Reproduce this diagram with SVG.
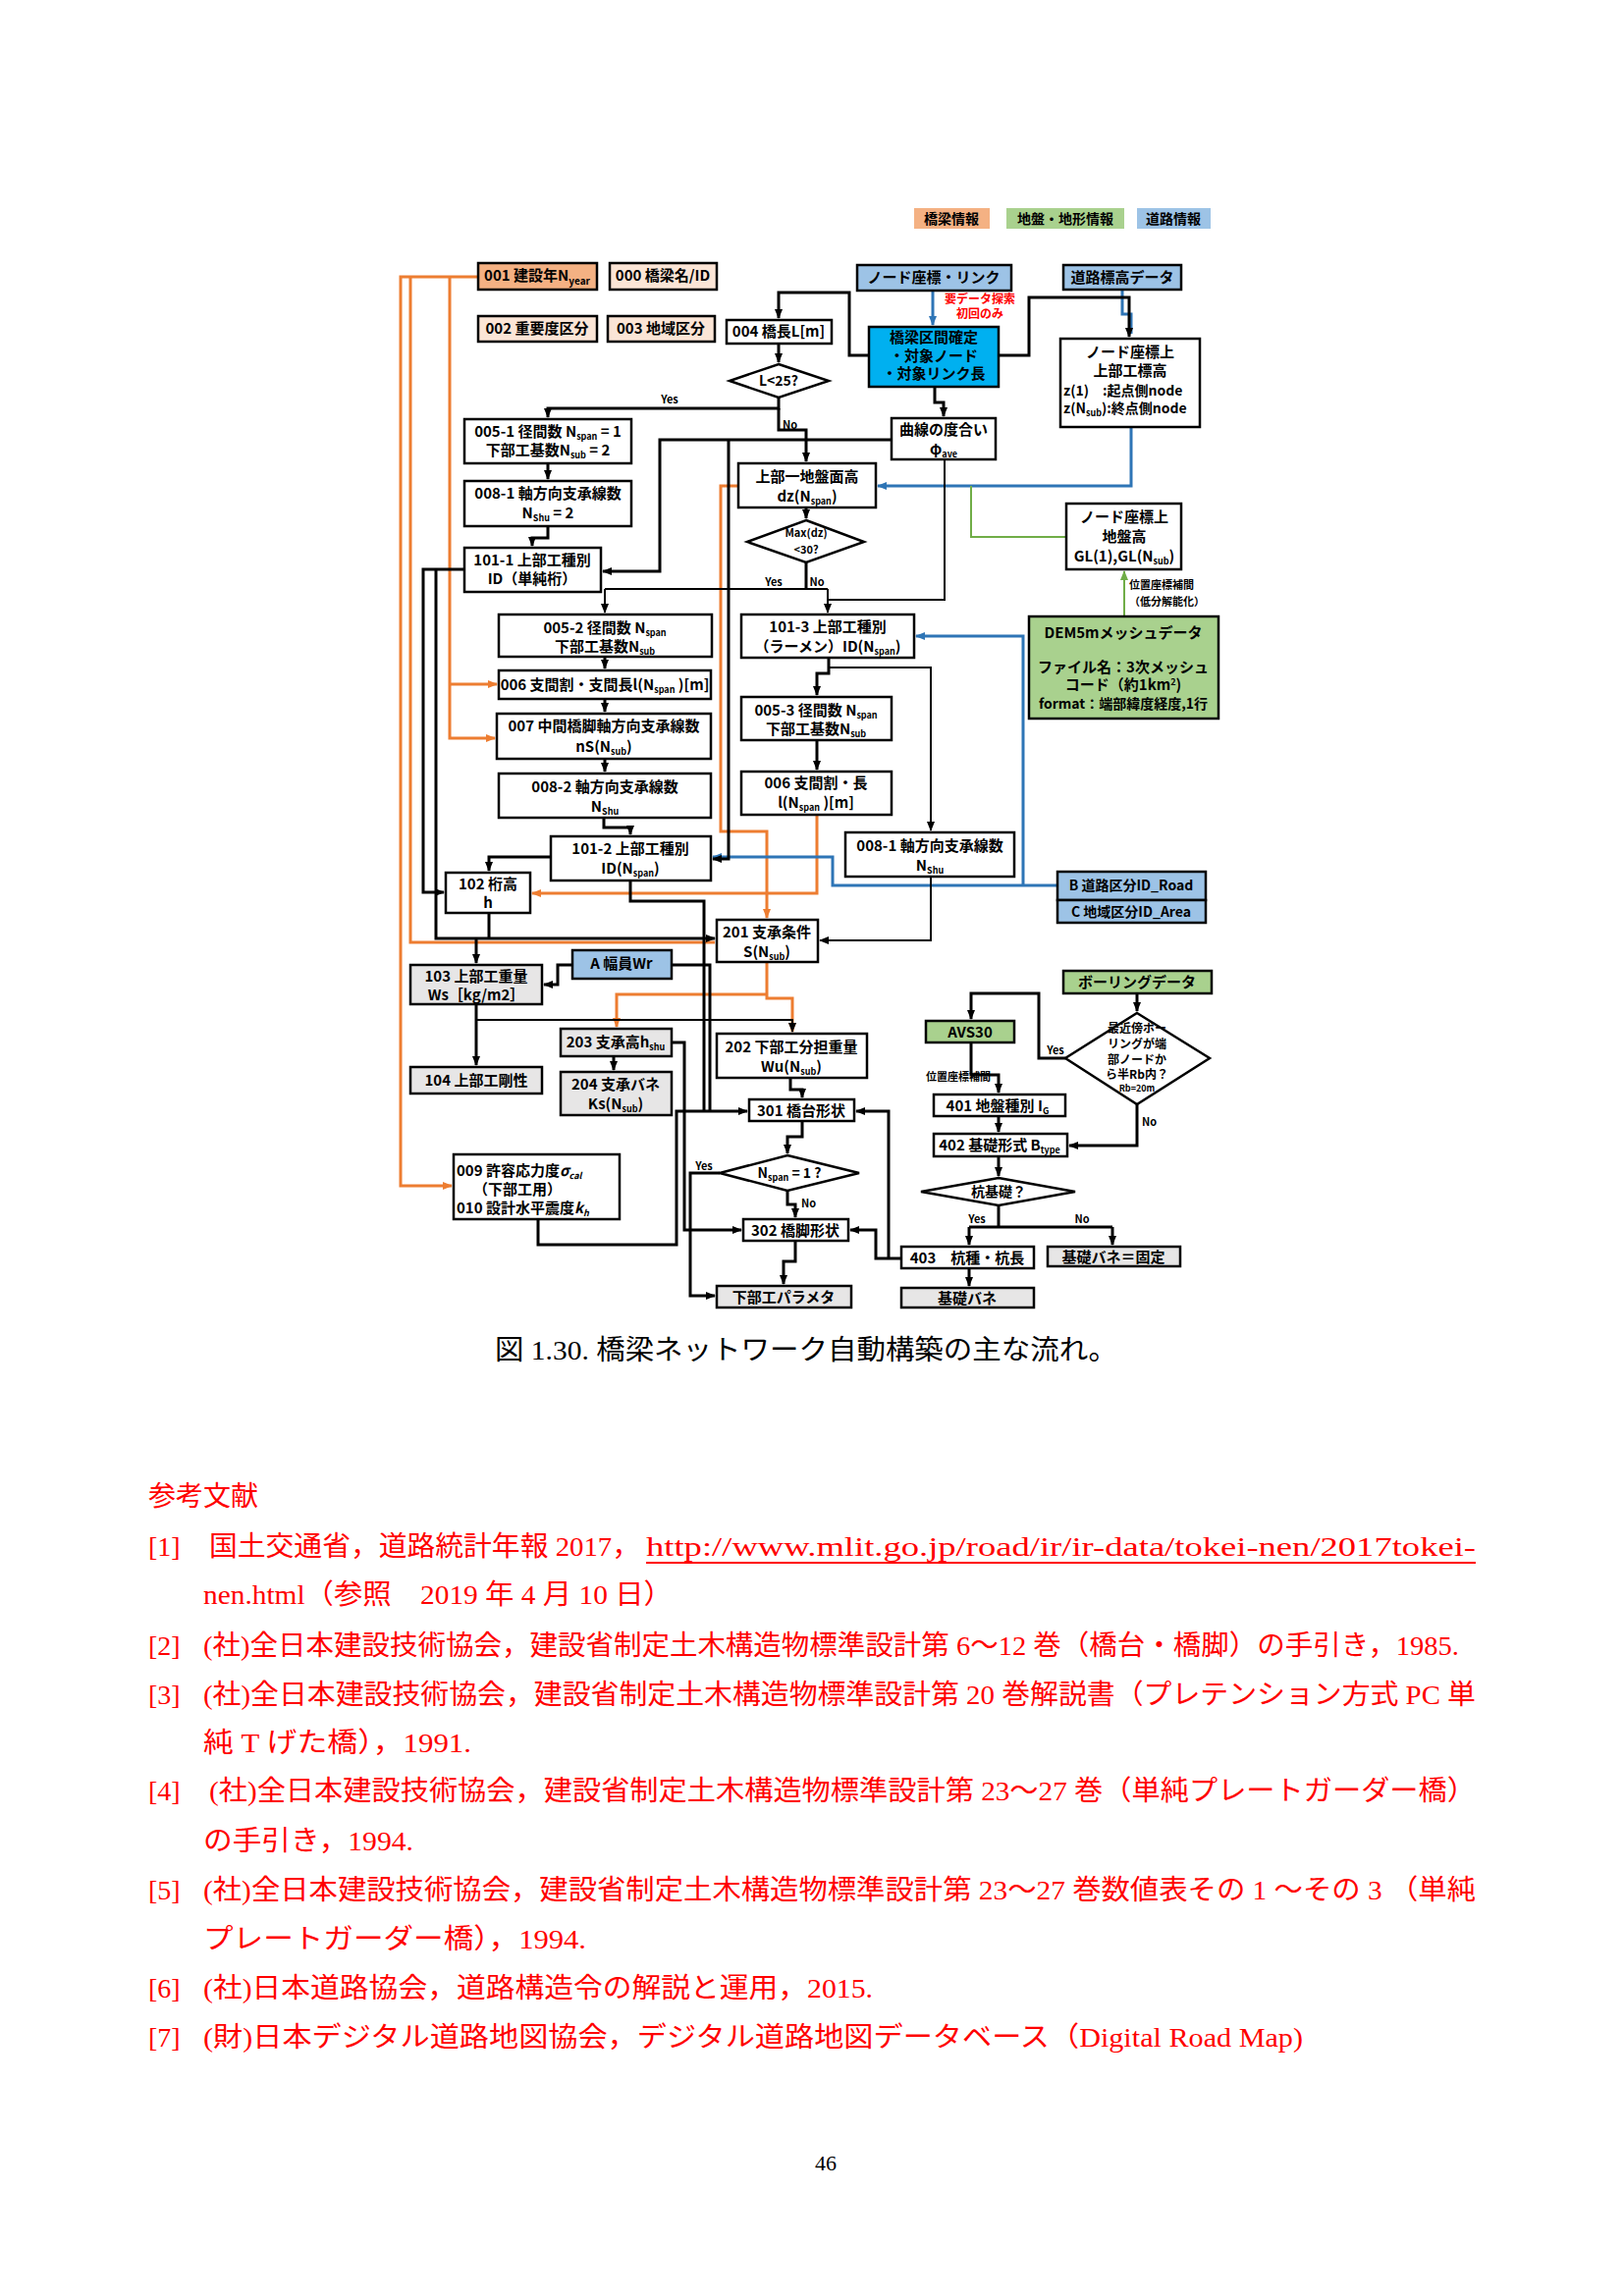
<svg xmlns="http://www.w3.org/2000/svg" width="1654" height="2339" viewBox="0 0 1654 2339">
<defs>
<style>
.bx{fill:#fff;stroke:#000;stroke-width:2.5}
.nb{stroke:none}
.or{fill:#f4b183}.pe{fill:#fbe5d6}.bl{fill:#9dc3e6}.gr{fill:#a9d18e}.cy{fill:#00b0f0}.gy{fill:#e7e6e6}
.t{font-family:"Noto Sans CJK JP","Liberation Sans",sans-serif;font-weight:700;font-size:15px;fill:#000;text-anchor:middle}
.tl{text-anchor:start}
.sm{font-size:11px}
.c{fill:none;stroke:#000;stroke-width:3}
.th{stroke-width:2}
.co{stroke:#ed7d31}.cb{stroke:#2e75b6}.cg{stroke:#70ad47}
.pg{font-family:"Liberation Serif","Noto Sans CJK JP",serif;font-size:28px}
.rd{fill:#ff0000}
</style>
<marker id="a" markerWidth="10" markerHeight="10" refX="9" refY="5" orient="auto" markerUnits="userSpaceOnUse"><path d="M0,1 L10,5 L0,9 z" fill="#000"/></marker>
<marker id="ao" markerWidth="10" markerHeight="10" refX="9" refY="5" orient="auto" markerUnits="userSpaceOnUse"><path d="M0,1 L10,5 L0,9 z" fill="#ed7d31"/></marker>
<marker id="ab" markerWidth="10" markerHeight="10" refX="9" refY="5" orient="auto" markerUnits="userSpaceOnUse"><path d="M0,1 L10,5 L0,9 z" fill="#2e75b6"/></marker>
<marker id="ag" markerWidth="10" markerHeight="10" refX="9" refY="5" orient="auto" markerUnits="userSpaceOnUse"><path d="M0,1 L10,5 L0,9 z" fill="#70ad47"/></marker>
</defs>
<rect width="1654" height="2339" fill="#fff"/>

<g id="connectors">
<!-- orange -->
<path class="c co" d="M487,282 H408 V1208 H460" marker-end="url(#ao)"/>
<path class="c co" d="M418,282 V960 H728"/>
<path class="c co" d="M458,282 V752 H504" marker-end="url(#ao)"/>
<path class="c co" d="M458,697 H506" marker-end="url(#ao)"/>
<path class="c co" d="M832,830 V910 H542" marker-end="url(#ao)"/>
<path class="c co" d="M752,495 H734 V847 H781 V935" marker-end="url(#ao)"/>
<path class="c co" d="M781,980 V1017 H807 V1051" marker-end="url(#ao)"/>
<path class="c co" d="M781,1013 H628 V1046" marker-end="url(#ao)"/>
<!-- blue -->
<path class="c cb" d="M950,296 V331" marker-end="url(#ab)"/>
<path class="c cb" d="M1143,295 V320 H1152 V340"/>
<path class="c cb" d="M1152,435 V495 H894" marker-end="url(#ab)"/>
<path class="c cb" d="M1077,902 H848 V873 H726" marker-end="url(#ab)"/>
<path class="c cb" d="M1042,902 V648 H933" marker-end="url(#ab)"/>
<!-- green -->
<path class="c cg th" d="M1086,547 H989 V495"/>
<path class="c cg th" d="M1145,628 V582" marker-end="url(#ag)"/>
<!-- black -->
<path class="c" d="M885,362 H865 V298 H793 V324" marker-end="url(#a)"/>
<path class="c" d="M793,350 V369" marker-end="url(#a)"/>
<path class="c" d="M793,405 V416 H558 V425" marker-end="url(#a)"/>
<path class="c" d="M793,416 V438 H821 V470" marker-end="url(#a)"/>
<path class="c" d="M1017,362 H1048 V303 H1150 V343" marker-end="url(#a)"/>
<path class="c" d="M952,394 V410 H961 V424" marker-end="url(#a)"/>
<path class="c" d="M908,448 H672 V582 H614" marker-end="url(#a)"/>
<path class="c" d="M742,448 V875 H726" marker-end="url(#a)"/>
<path class="c th" d="M962,468 V611 H844"/>
<path class="c" d="M821,517 V528" marker-end="url(#a)"/>
<path class="c" d="M821,573 V600"/>
<path class="c th" d="M616,600 H843"/>
<path class="c th" d="M616,600 V624" marker-end="url(#a)"/>
<path class="c th" d="M843,600 V624" marker-end="url(#a)"/>
<path class="c" d="M558,472 V488" marker-end="url(#a)"/>
<path class="c" d="M558,536 V548 H542 V556" marker-end="url(#a)"/>
<path class="c" d="M473,580 H431 V909 H452" marker-end="url(#a)"/>
<path class="c" d="M444,580 V956 H728" marker-end="url(#a)"/>
<path class="c" d="M616,669 V681" marker-end="url(#a)"/>
<path class="c" d="M616,712 V725" marker-end="url(#a)"/>
<path class="c" d="M616,773 V786" marker-end="url(#a)"/>
<path class="c" d="M615,833 V843 H642 V850" marker-end="url(#a)"/>
<path class="c" d="M561,873 H498 V887" marker-end="url(#a)"/>
<path class="c" d="M642,897 V918 H717 V1132"/>
<path class="c" d="M498,930 V956"/>
<path class="c" d="M485,956 V981" marker-end="url(#a)"/>
<path class="c" d="M844,670 V686 H832 V708" marker-end="url(#a)"/>
<path class="c th" d="M844,680 H948 V846" marker-end="url(#a)"/>
<path class="c" d="M832,754 V784" marker-end="url(#a)"/>
<path class="c th" d="M948,893 V958 H835" marker-end="url(#a)"/>
<path class="c" d="M583,983 H568 V1003 H554" marker-end="url(#a)"/>
<path class="c" d="M684,983 H723 V1132"/>
<path class="c" d="M485,1023 V1085" marker-end="url(#a)"/>
<path class="c th" d="M485,1039 H807 V1051" marker-end="url(#a)"/>
<path class="c" d="M625,1076 V1090" marker-end="url(#a)"/>
<path class="c" d="M684,1062 H697 V1253 H755" marker-end="url(#a)"/>
<path class="c" d="M548,1242 V1268 H689 V1132 H761" marker-end="url(#a)"/>
<path class="c" d="M805,1098 V1110 H817 V1118" marker-end="url(#a)"/>
<path class="c" d="M817,1142 V1158 H802 V1175" marker-end="url(#a)"/>
<path class="c" d="M733,1195 H703 V1320 H728" marker-end="url(#a)"/>
<path class="c" d="M802,1213 V1227 H810 V1240" marker-end="url(#a)"/>
<path class="c" d="M810,1264 V1285 H798 V1308" marker-end="url(#a)"/>
<path class="c" d="M918,1282 H892 V1253 H866" marker-end="url(#a)"/>
<path class="c" d="M905,1282 V1132 H872" marker-end="url(#a)"/>
<path class="c" d="M1158,1012 V1030" marker-end="url(#a)"/>
<path class="c" d="M1085,1078 H1058 V1012 H989 V1038" marker-end="url(#a)"/>
<path class="c" d="M989,1062 V1095 H1017 V1113" marker-end="url(#a)"/>
<path class="c" d="M1017,1137 V1153" marker-end="url(#a)"/>
<path class="c" d="M1158,1125 V1167 H1089" marker-end="url(#a)"/>
<path class="c" d="M1017,1178 V1198" marker-end="url(#a)"/>
<path class="c" d="M1017,1228 V1250 M987,1250 H1133"/>
<path class="c" d="M987,1250 V1268" marker-end="url(#a)"/>
<path class="c" d="M1133,1250 V1268" marker-end="url(#a)"/>
<path class="c" d="M987,1292 V1310" marker-end="url(#a)"/>
<!-- labels -->
<text class="t sm" x="682" y="411">Yes</text>
<text class="t sm tl" x="797" y="437">No</text>
<text class="t sm" x="788" y="597">Yes</text>
<text class="t sm" x="832" y="597">No</text>
<text class="t sm" x="717" y="1192">Yes</text>
<text class="t sm tl" x="816" y="1230">No</text>
<text class="t sm" x="1075" y="1074">Yes</text>
<text class="t sm tl" x="1163" y="1147">No</text>
<text class="t sm" x="995" y="1246">Yes</text>
<text class="t sm" x="1102" y="1246">No</text>
<text class="t sm tl" x="1150" y="600">位置座標補間</text>
<text class="t sm tl" x="1150" y="617">（低分解能化）</text>
<text class="t sm" x="976" y="1101">位置座標補間</text>
<text class="t" x="998" y="309" style="font-size:12px;fill:#ff0000">要データ探索</text>
<text class="t" x="998" y="324" style="font-size:12px;fill:#ff0000">初回のみ</text>
</g>

<g id="legend">
<rect class="or" x="931" y="212" width="77" height="21"/><text class="t" x="969" y="228" style="font-size:14px">橋梁情報</text>
<rect class="gr" x="1025" y="212" width="120" height="21"/><text class="t" x="1085" y="228" style="font-size:14px">地盤・地形情報</text>
<rect class="bl" x="1158" y="212" width="75" height="21"/><text class="t" x="1195" y="228" style="font-size:14px">道路情報</text>
</g>

<g id="n001"><rect class="bx or" x="487" y="268" width="121" height="27"/><text class="t" x="547" y="286">001 建設年N<tspan dy="4" font-size="10">year</tspan></text></g>
<g id="n000"><rect class="bx pe" x="621" y="268" width="109" height="27"/><text class="t" x="675" y="286">000 橋梁名/ID</text></g>
<g id="n002"><rect class="bx pe" x="487" y="322" width="121" height="26"/><text class="t" x="547" y="340">002 重要度区分</text></g>
<g id="n003"><rect class="bx pe" x="619" y="322" width="109" height="26"/><text class="t" x="673" y="340">003 地域区分</text></g>
<g id="n004"><rect class="bx" x="740" y="326" width="107" height="24"/><text class="t" x="793" y="343">004 橋長L[m]</text></g>
<g id="d1"><polygon class="bx" points="793,371 844,388 793,405 743,388"/><text class="t" x="793" y="393" style="font-size:14px">L&lt;25?</text></g>
<g id="nNode"><rect class="bx bl" x="873" y="270" width="157" height="26"/><text class="t" x="951" y="288">ノード座標・リンク</text></g>
<g id="nKyo"><rect class="bx cy" x="885" y="333" width="132" height="61"/><text class="t" x="951" y="349">橋梁区間確定</text><text class="t" x="951" y="368">・対象ノード</text><text class="t" x="951" y="386">・対象リンク長</text></g>
<g id="nRoadZ"><rect class="bx bl" x="1083" y="270" width="120" height="25"/><text class="t" x="1143" y="288">道路標高データ</text></g>
<g id="nZ"><rect class="bx" x="1080" y="345" width="142" height="90"/><text class="t" x="1151" y="364">ノード座標上</text><text class="t" x="1151" y="383">上部工標高</text><text class="t tl" x="1083" y="403" style="font-size:14px">z(1)　:起点側node</text><text class="t tl" x="1083" y="421" style="font-size:14px">z(N<tspan dy="3" font-size="9">sub</tspan><tspan dy="-3">):終点側node</tspan></text></g>
<g id="nCurve"><rect class="bx" x="908" y="426" width="106" height="42"/><text class="t" x="961" y="443">曲線の度合い</text><text class="t" x="961" y="463">φ<tspan dy="3" font-size="9">ave</tspan></text></g>
<g id="nDz"><rect class="bx" x="752" y="472" width="140" height="45"/><text class="t" x="822" y="491">上部一地盤面高</text><text class="t" x="822" y="511">dz(N<tspan dy="3" font-size="9">span</tspan><tspan dy="-3">)</tspan></text></g>
<g id="d2"><polygon class="bx" points="821,530 880,552 821,573 761,552"/><text class="t" x="821" y="547" style="font-size:11px">Max(dz)</text><text class="t" x="821" y="564" style="font-size:11px">&lt;30?</text></g>
<g id="nGL"><rect class="bx" x="1086" y="513" width="117" height="67"/><text class="t" x="1145" y="532">ノード座標上</text><text class="t" x="1145" y="552">地盤高</text><text class="t" x="1145" y="572">GL(1),GL(N<tspan dy="3" font-size="9">sub</tspan><tspan dy="-3">)</tspan></text></g>
<g id="nDEM"><rect class="bx gr" x="1048" y="628" width="193" height="104"/><text class="t" x="1144" y="650">DEM5mメッシュデータ</text><text class="t" x="1144" y="685">ファイル名：3次メッシュ</text><text class="t" x="1144" y="703">コード（約1km<tspan dy="-5" font-size="9">2</tspan><tspan dy="5">)</tspan></text><text class="t" x="1144" y="722" style="font-size:14px">format：端部緯度経度,1行</text></g>
<g id="n005-1"><rect class="bx" x="473" y="427" width="170" height="45"/><text class="t" x="558" y="445">005-1 径間数 N<tspan dy="3" font-size="9">span</tspan><tspan dy="-3"> = 1</tspan></text><text class="t" x="558" y="464">下部工基数N<tspan dy="3" font-size="9">sub</tspan><tspan dy="-3"> = 2</tspan></text></g>
<g id="n008-1"><rect class="bx" x="473" y="490" width="170" height="46"/><text class="t" x="558" y="508">008-1 軸方向支承線数</text><text class="t" x="558" y="528">N<tspan dy="3" font-size="9">Shu</tspan><tspan dy="-3"> = 2</tspan></text></g>
<g id="n101-1"><rect class="bx" x="473" y="558" width="139" height="45"/><text class="t" x="542" y="576">101-1 上部工種別</text><text class="t" x="542" y="595">ID（単純桁）</text></g>
<g id="n005-2"><rect class="bx" x="508" y="626" width="217" height="43"/><text class="t" x="616" y="645">005-2 径間数 N<tspan dy="3" font-size="9">span</tspan></text><text class="t" x="616" y="664">下部工基数N<tspan dy="3" font-size="9">sub</tspan></text></g>
<g id="n006"><rect class="bx" x="508" y="683" width="216" height="29"/><text class="t" x="616" y="703">006 支間割・支間長l(N<tspan dy="3" font-size="9">span</tspan><tspan dy="-3"> )[m]</tspan></text></g>
<g id="n007"><rect class="bx" x="506" y="727" width="218" height="46"/><text class="t" x="615" y="745">007 中間橋脚軸方向支承線数</text><text class="t" x="615" y="766">nS(N<tspan dy="3" font-size="9">sub</tspan><tspan dy="-3">)</tspan></text></g>
<g id="n008-2"><rect class="bx" x="508" y="788" width="216" height="45"/><text class="t" x="616" y="807">008-2 軸方向支承線数</text><text class="t" x="616" y="827">N<tspan dy="3" font-size="9">Shu</tspan></text></g>
<g id="n101-2"><rect class="bx" x="561" y="852" width="163" height="45"/><text class="t" x="642" y="870">101-2 上部工種別</text><text class="t" x="642" y="890">ID(N<tspan dy="3" font-size="9">span</tspan><tspan dy="-3">)</tspan></text></g>
<g id="n102"><rect class="bx" x="454" y="889" width="86" height="41"/><text class="t" x="497" y="906">102 桁高</text><text class="t" x="497" y="925">h</text></g>
<g id="n101-3"><rect class="bx" x="755" y="626" width="176" height="44"/><text class="t" x="843" y="644">101-3 上部工種別</text><text class="t" x="843" y="664">（ラーメン）ID(N<tspan dy="3" font-size="9">span</tspan><tspan dy="-3">)</tspan></text></g>
<g id="n005-3"><rect class="bx" x="755" y="710" width="153" height="44"/><text class="t" x="831" y="729">005-3 径間数 N<tspan dy="3" font-size="9">span</tspan></text><text class="t" x="831" y="748">下部工基数N<tspan dy="3" font-size="9">sub</tspan></text></g>
<g id="n006b"><rect class="bx" x="755" y="786" width="153" height="44"/><text class="t" x="831" y="803">006 支間割・長</text><text class="t" x="831" y="823">l(N<tspan dy="3" font-size="9">span</tspan><tspan dy="-3"> )[m]</tspan></text></g>
<g id="n008-1b"><rect class="bx" x="861" y="848" width="172" height="45"/><text class="t" x="947" y="867">008-1 軸方向支承線数</text><text class="t" x="947" y="887">N<tspan dy="3" font-size="9">Shu</tspan></text></g>
<g id="nB"><rect class="bx bl" x="1077" y="888" width="151" height="29"/><text class="t" x="1152" y="907" style="font-size:14px">B 道路区分ID_Road</text></g>
<g id="nC"><rect class="bx bl" x="1077" y="917" width="151" height="23"/><text class="t" x="1152" y="934" style="font-size:14px">C 地域区分ID_Area</text></g>
<g id="n201"><rect class="bx" x="730" y="937" width="103" height="43"/><text class="t" x="781" y="955">201 支承条件</text><text class="t" x="781" y="975">S(N<tspan dy="3" font-size="9">sub</tspan><tspan dy="-3">)</tspan></text></g>
<g id="nA"><rect class="bx bl" x="583" y="968" width="101" height="29"/><text class="t" x="633" y="987">A 幅員Wr</text></g>
<g id="n103"><rect class="bx gy" x="418" y="983" width="134" height="40"/><text class="t" x="485" y="1000">103 上部工重量</text><text class="t" x="485" y="1019">Ws［kg/m2］</text></g>
<g id="n104"><rect class="bx gy" x="418" y="1087" width="134" height="27"/><text class="t" x="485" y="1106">104 上部工剛性</text></g>
<g id="n203"><rect class="bx gy" x="571" y="1048" width="113" height="28"/><text class="t" x="627" y="1067">203 支承高h<tspan dy="3" font-size="9">shu</tspan></text></g>
<g id="n204"><rect class="bx gy" x="571" y="1092" width="113" height="44"/><text class="t" x="627" y="1110">204 支承バネ</text><text class="t" x="627" y="1130">Ks(N<tspan dy="3" font-size="9">sub</tspan><tspan dy="-3">)</tspan></text></g>
<g id="n202"><rect class="bx" x="730" y="1053" width="153" height="45"/><text class="t" x="806" y="1072">202 下部工分担重量</text><text class="t" x="806" y="1092">Wu(N<tspan dy="3" font-size="9">sub</tspan><tspan dy="-3">)</tspan></text></g>
<g id="n301"><rect class="bx" x="763" y="1120" width="107" height="22"/><text class="t" x="816" y="1137">301 橋台形状</text></g>
<g id="d3"><polygon class="bx" points="802,1177 875,1195 802,1213 733,1195"/><text class="t" x="804" y="1200" style="font-size:14px">N<tspan dy="3" font-size="9">span</tspan><tspan dy="-3"> = 1 ?</tspan></text></g>
<g id="n302"><rect class="bx" x="757" y="1242" width="107" height="22"/><text class="t" x="810" y="1259">302 橋脚形状</text></g>
<g id="nPar"><rect class="bx gy" x="730" y="1310" width="137" height="22"/><text class="t" x="798" y="1327">下部工パラメタ</text></g>
<g id="n009"><rect class="bx" x="462" y="1176" width="169" height="66"/><text class="t tl" x="465" y="1198">009 許容応力度<tspan font-style="italic">σ</tspan><tspan dy="3" font-size="9" font-style="italic">cal</tspan></text><text class="t tl" x="482" y="1217">（下部工用）</text><text class="t tl" x="465" y="1236">010 設計水平震度<tspan font-style="italic">k</tspan><tspan dy="3" font-size="9" font-style="italic">h</tspan></text></g>
<g id="nBor"><rect class="bx gr" x="1083" y="989" width="151" height="23"/><text class="t" x="1158" y="1006">ボーリングデータ</text></g>
<g id="d4"><polygon class="bx" points="1158,1032 1232,1078 1158,1125 1085,1078"/><text class="t" x="1158" y="1052" style="font-size:12px">最近傍ボー</text><text class="t" x="1158" y="1068" style="font-size:12px">リングが端</text><text class="t" x="1158" y="1084" style="font-size:12px">部ノードか</text><text class="t" x="1158" y="1099" style="font-size:12px">ら半Rb内？</text><text class="t" x="1158" y="1112" style="font-size:9px">Rb=20m</text></g>
<g id="nAVS"><rect class="bx gr" x="943" y="1040" width="90" height="22"/><text class="t" x="988" y="1057">AVS30</text></g>
<g id="n401"><rect class="bx" x="951" y="1115" width="134" height="22"/><text class="t" x="1016" y="1132">401 地盤種別 I<tspan dy="3" font-size="9">G</tspan></text></g>
<g id="n402"><rect class="bx" x="951" y="1155" width="136" height="23"/><text class="t" x="1018" y="1172">402 基礎形式 B<tspan dy="3" font-size="9">type</tspan></text></g>
<g id="d5"><polygon class="bx" points="1017,1200 1095,1214 1017,1228 938,1214"/><text class="t" x="1017" y="1219" style="font-size:14px">杭基礎？</text></g>
<g id="n403"><rect class="bx" x="918" y="1270" width="135" height="22"/><text class="t" x="985" y="1287">403　杭種・杭長</text></g>
<g id="nFix"><rect class="bx gy" x="1067" y="1270" width="135" height="20"/><text class="t" x="1134" y="1286">基礎バネ＝固定</text></g>
<g id="nSpr"><rect class="bx gy" x="918" y="1312" width="135" height="20"/><text class="t" x="985" y="1328">基礎バネ</text></g>

<g id="caption">
<text class="pg" x="504" y="1385" textLength="634" lengthAdjust="spacingAndGlyphs">図 1.30. 橋梁ネットワーク自動構築の主な流れ。</text>
</g>
<g id="references" class="rd">
<text class="pg rd" x="151" y="1534">参考文献</text>
<text class="pg rd" x="151" y="1585">[1]</text>
<text class="pg rd" x="213" y="1585" textLength="439" lengthAdjust="spacingAndGlyphs">国土交通省，道路統計年報 2017，</text>
<text class="pg rd" x="658" y="1585" textLength="845" lengthAdjust="spacingAndGlyphs">http://www.mlit.go.jp/road/ir/ir-data/tokei-nen/2017tokei-</text>
<line x1="658" y1="1592" x2="1503" y2="1592" stroke="#ff0000" stroke-width="2"/>
<text class="pg rd" x="207" y="1634" textLength="478" lengthAdjust="spacingAndGlyphs">nen.html（参照　2019 年 4 月 10 日）</text>
<text class="pg rd" x="151" y="1686">[2]</text>
<text class="pg rd" x="207" y="1686" textLength="1279" lengthAdjust="spacingAndGlyphs">(社)全日本建設技術協会，建設省制定土木構造物標準設計第 6～12 巻（橋台・橋脚）の手引き，1985.</text>
<text class="pg rd" x="151" y="1736">[3]</text>
<text class="pg rd" x="207" y="1736" textLength="1296" lengthAdjust="spacingAndGlyphs">(社)全日本建設技術協会，建設省制定土木構造物標準設計第 20 巻解説書（プレテンション方式 PC 単</text>
<text class="pg rd" x="207" y="1785" textLength="273" lengthAdjust="spacingAndGlyphs">純 T げた橋），1991.</text>
<text class="pg rd" x="151" y="1834">[4]</text>
<text class="pg rd" x="213" y="1834" textLength="1290" lengthAdjust="spacingAndGlyphs">(社)全日本建設技術協会，建設省制定土木構造物標準設計第 23～27 巻（単純プレートガーダー橋）</text>
<text class="pg rd" x="207" y="1885" textLength="214" lengthAdjust="spacingAndGlyphs">の手引き，1994.</text>
<text class="pg rd" x="151" y="1935">[5]</text>
<text class="pg rd" x="207" y="1935" textLength="1296" lengthAdjust="spacingAndGlyphs">(社)全日本建設技術協会，建設省制定土木構造物標準設計第 23～27 巻数値表その 1 ～その 3 （単純</text>
<text class="pg rd" x="207" y="1985" textLength="390" lengthAdjust="spacingAndGlyphs">プレートガーダー橋），1994.</text>
<text class="pg rd" x="151" y="2035">[6]</text>
<text class="pg rd" x="207" y="2035" textLength="682" lengthAdjust="spacingAndGlyphs">(社)日本道路協会，道路構造令の解説と運用，2015.</text>
<text class="pg rd" x="151" y="2085">[7]</text>
<text class="pg rd" x="207" y="2085" textLength="1120" lengthAdjust="spacingAndGlyphs">(財)日本デジタル道路地図協会，デジタル道路地図データベース（Digital Road Map)</text>
</g>
<text class="pg" x="841" y="2211" text-anchor="middle" style="font-size:22px">46</text>
</svg>
